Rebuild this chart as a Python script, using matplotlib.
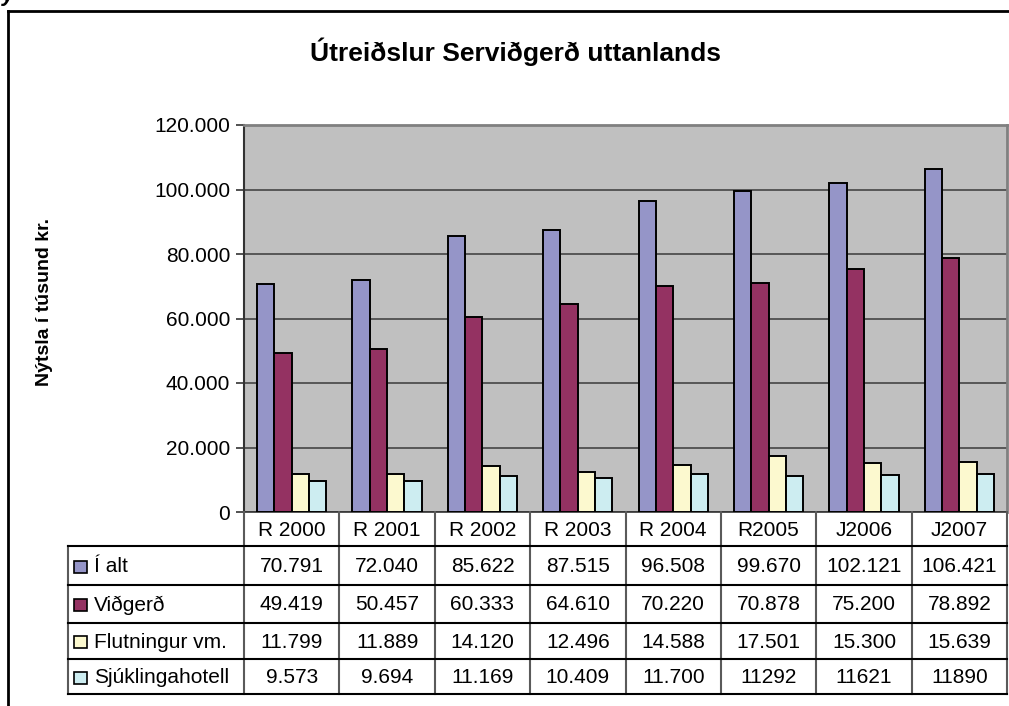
import numpy as np
import matplotlib
matplotlib.use('Agg')
from matplotlib import pyplot as plt

plt.rcParams['font.family'] = ['Liberation Sans', 'DejaVu Sans']

years = ['R 2000', 'R 2001', 'R 2002', 'R 2003', 'R 2004', 'R2005', 'J2006', 'J2007']
series = ['Í alt', 'Viðgerð', 'Flutningur vm.', 'Sjúklingahotell']
i_alt = [70791, 72040, 85622, 87515, 96508, 99670, 102121, 106421]
vidgerd = [49419, 50457, 60333, 64610, 70220, 70878, 75200, 78892]
flutningur = [11799, 11889, 14120, 12496, 14588, 17501, 15300, 15639]
sjukl = [9573, 9694, 11169, 10409, 11700, 11292, 11621, 11890]
# how the table prints them
table_text = [
    ['70.791', '72.040', '85.622', '87.515', '96.508', '99.670', '102.121', '106.421'],
    ['49.419', '50.457', '60.333', '64.610', '70.220', '70.878', '75.200', '78.892'],
    ['11.799', '11.889', '14.120', '12.496', '14.588', '17.501', '15.300', '15.639'],
    ['9.573', '9.694', '11.169', '10.409', '11.700', '11292', '11621', '11890'],
]
colors = ['#9595C8', '#943262', '#FCF9CF', '#CDEDF1']

W, H = 1009, 706
fig = plt.figure(figsize=(W / 100, H / 100), dpi=100)

# pixel layout of the plot area
px_l, px_r, px_t, px_b = 244, 1007, 125, 512
ax = fig.add_axes([px_l / W, 1 - px_b / H, (px_r - px_l) / W, (px_b - px_t) / H])
ax.set_facecolor('#C0C0C0')

x = np.arange(len(years))
bw = 1 / 5.5
for k, vals in enumerate([i_alt, vidgerd, flutningur, sjukl]):
    ax.bar(x + (k - 1.5) * bw, vals, bw, color=colors[k], edgecolor='black',
           linewidth=1.4, zorder=3)

ax.set_xlim(-0.5, len(years) - 0.5)
ax.set_ylim(0, 120000)
ax.set_yticks(np.arange(0, 120001, 20000))
ax.set_yticklabels(['0'] + [f'{v // 1000}.000' for v in range(20000, 120001, 20000)],
                   fontsize=15)
ax.tick_params(axis='y', direction='out', length=6, width=1.2, color='#333333', pad=4)
ax.set_xticks([])
ax.yaxis.grid(True, color='#3a3a3a', linewidth=1.1, zorder=1)
ax.set_axisbelow(True)
ax.spines['left'].set_color('#333333')
ax.spines['left'].set_linewidth(1.5)
for s in ['top', 'right']:
    ax.spines[s].set_color('#808080')
    ax.spines[s].set_linewidth(2)
ax.spines['bottom'].set_color('#333333')
ax.spines['bottom'].set_linewidth(1.2)

# overlay in pixel coords for frame, title and data table
ov = fig.add_axes([0, 0, 1, 1], zorder=5)
ov.set_xlim(0, W)
ov.set_ylim(H, 0)
ov.axis('off')
ov.patch.set_alpha(0)

ov.plot([8, 8], [11, H + 5], color='black', lw=2)
ov.plot([8, W + 5], [11, 11], color='black', lw=2)
ov.text(8, -4, 'y', fontsize=16, fontweight='bold', fontstyle='italic',
        ha='center', va='center')

ov.text(516, 52, 'Útreiðslur Serviðgerð uttanlands', fontsize=19,
        fontweight='bold', ha='center', va='center')
ov.text(45, 302, 'Nýtsla í túsund kr.', fontsize=14, fontweight='bold',
        rotation=90, ha='center', va='center')

# data table
colw = (px_r - px_l) / len(years)
row_y = [px_b, 546, 585, 623, 659, 694]
tab_l = 68
for i in range(len(years) + 1):
    xv = px_l + i * colw
    ov.plot([xv, xv], [px_b, row_y[-1]], color='#5a5a5a', lw=1.5)
ov.plot([tab_l, tab_l], [row_y[1], row_y[-1]], color='#5a5a5a', lw=1.5)
for yv in row_y[1:]:
    ov.plot([tab_l, px_r], [yv, yv], color='black', lw=1.5)

for i, yr in enumerate(years):
    ov.text(px_l + (i + 0.5) * colw, (row_y[0] + row_y[1]) / 2 + 1, yr,
            fontsize=15, ha='center', va='center')
for r, name in enumerate(series):
    yc = (row_y[r + 1] + row_y[r + 2]) / 2
    ov.add_patch(plt.Rectangle((74, yc - 5), 13, 12, facecolor=colors[r],
                               edgecolor='black', lw=1.2))
    ov.text(94, yc + 1, name, fontsize=15, ha='left', va='center')
    for i in range(len(years)):
        ov.text(px_l + (i + 0.5) * colw, yc + 1, table_text[r][i],
                fontsize=15, ha='center', va='center')

fig.savefig('out.png', dpi=100)
